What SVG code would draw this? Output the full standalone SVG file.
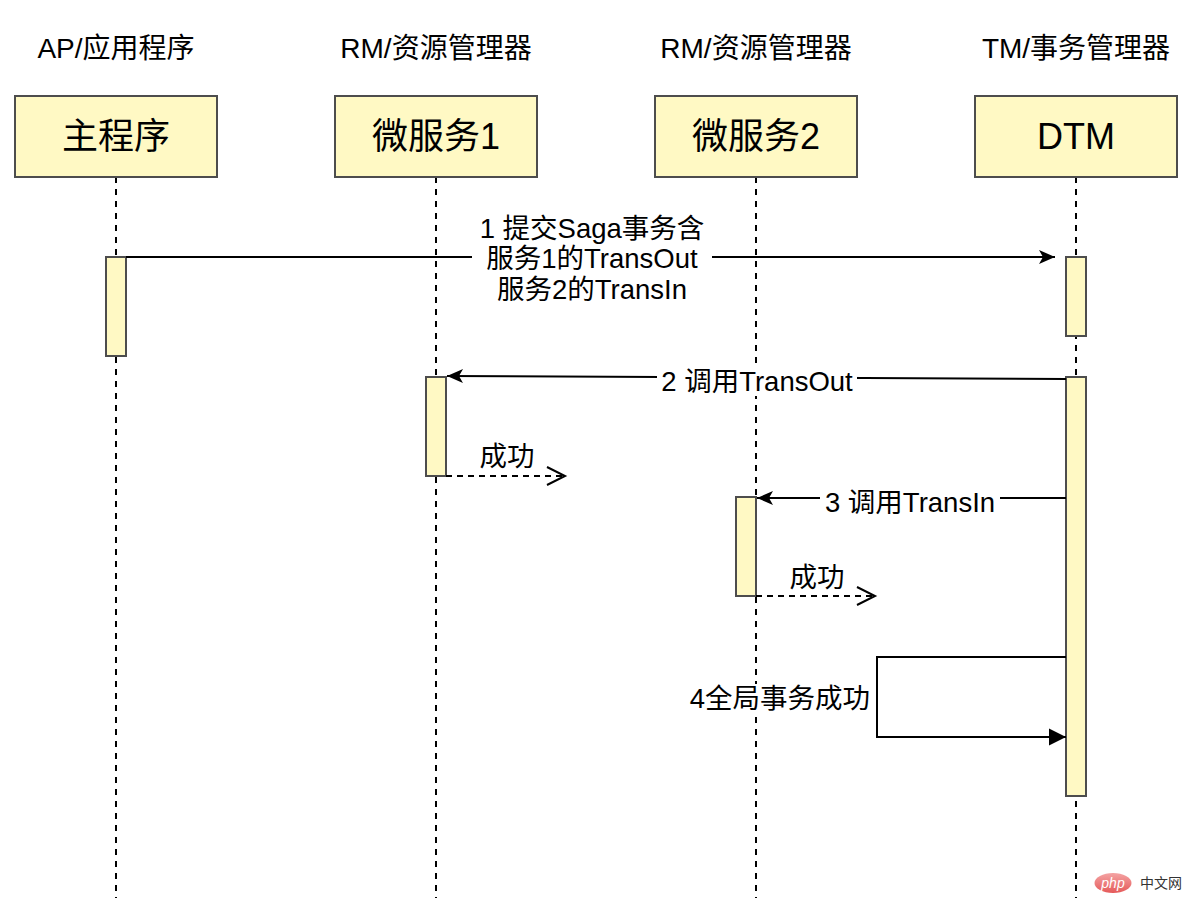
<svg xmlns="http://www.w3.org/2000/svg" width="1194" height="916" viewBox="0 0 1194 916">
<style>
text{font-family:"Liberation Sans","Noto Sans CJK SC",sans-serif;fill:#000}
.hdr{font-size:28px;text-anchor:middle}
.box{fill:#fff9c4;stroke:#4d4d4d;stroke-width:2}
.lbl{font-size:36px;text-anchor:middle}
.life{stroke:#000;stroke-width:2;stroke-dasharray:6 6;fill:none}
.act{fill:#fff9c4;stroke:#4d4d4d;stroke-width:2}
.msg{stroke:#000;stroke-width:2;fill:none}
.ret{stroke:#000;stroke-width:2;fill:none;stroke-dasharray:6 5}
.ml{font-size:27.5px}
.bg{fill:#fff}
</style>
<defs>
<marker id="classic" markerWidth="16" markerHeight="14" refX="16" refY="7" orient="auto" markerUnits="userSpaceOnUse" overflow="visible"><path d="M0,0 L16,7 L0,14 L4,7 Z" fill="#000"/></marker>
<marker id="block" markerWidth="17" markerHeight="17" refX="17" refY="8.5" orient="auto" markerUnits="userSpaceOnUse" overflow="visible"><path d="M0,0 L17,8.5 L0,17 Z" fill="#000"/></marker>
<marker id="open" markerWidth="18" markerHeight="18" refX="18" refY="9" orient="auto" markerUnits="userSpaceOnUse" overflow="visible"><path d="M0,0 L18,9 L0,18" fill="none" stroke="#000" stroke-width="2"/></marker>
<linearGradient id="php" x1="0" y1="0" x2="0" y2="1"><stop offset="0" stop-color="#f4a3a3"/><stop offset="1" stop-color="#e55a5a"/></linearGradient>
</defs>
<rect width="1194" height="916" fill="#fff"/>

<g id="lifelines">
<line class="life" x1="116" y1="177" x2="116" y2="898"/>
<line class="life" x1="436" y1="177" x2="436" y2="898"/>
<line class="life" x1="756" y1="177" x2="756" y2="898"/>
<line class="life" x1="1076" y1="177" x2="1076" y2="898"/>
</g>

<g id="ap">
<text class="hdr" x="116" y="58">AP/应用程序</text>
<rect class="box" x="15" y="96" width="202" height="81"/>
<text class="lbl" x="116" y="149">主程序</text>
<rect class="act" x="106" y="257" width="20" height="99"/>
</g>
<g id="rm1">
<text class="hdr" x="436" y="58">RM/资源管理器</text>
<rect class="box" x="335" y="96" width="202" height="81"/>
<text class="lbl" x="436" y="149">微服务1</text>
<rect class="act" x="426" y="377" width="20" height="99"/>
</g>
<g id="rm2">
<text class="hdr" x="756" y="58">RM/资源管理器</text>
<rect class="box" x="655" y="96" width="202" height="81"/>
<text class="lbl" x="756" y="149">微服务2</text>
<rect class="act" x="736" y="497" width="20" height="99"/>
</g>
<g id="tm">
<text class="hdr" x="1076" y="58">TM/事务管理器</text>
<rect class="box" x="975" y="96" width="202" height="81"/>
<text class="lbl" x="1076" y="149">DTM</text>
<rect class="act" x="1066" y="257" width="20" height="79"/>
<rect class="act" x="1066" y="377" width="20" height="419"/>
</g>

<g id="connectors">
<line class="msg" x1="126" y1="257" x2="1055" y2="257" marker-end="url(#classic)"/>
<rect class="bg" x="472" y="213" width="240" height="92"/>
<text class="ml" x="592" y="238" text-anchor="middle">1 提交Saga事务含</text>
<text class="ml" x="592" y="268" text-anchor="middle">服务1的TransOut</text>
<text class="ml" x="592" y="299" text-anchor="middle">服务2的TransIn</text>

<line class="msg" x1="1066" y1="379" x2="447" y2="376" marker-end="url(#classic)"/>
<rect class="bg" x="657" y="366" width="200" height="30"/>
<text class="ml" x="757" y="391" text-anchor="middle">2 调用TransOut</text>

<line class="ret" x1="446" y1="476" x2="565" y2="476" marker-end="url(#open)"/>
<text class="ml" x="507" y="466" text-anchor="middle">成功</text>

<line class="msg" x1="1066" y1="498" x2="757" y2="498" marker-end="url(#classic)"/>
<rect class="bg" x="820" y="487" width="180" height="30"/>
<text class="ml" x="910" y="512" text-anchor="middle">3 调用TransIn</text>

<line class="ret" x1="756" y1="596" x2="875" y2="596" marker-end="url(#open)"/>
<text class="ml" x="817" y="587" text-anchor="middle">成功</text>

<path class="msg" d="M1066,657 L877,657 L877,737 L1066,737" marker-end="url(#block)"/>
<rect class="bg" x="684" y="684" width="188" height="30"/>
<text class="ml" x="870" y="708" text-anchor="end">4全局事务成功</text>
</g>

<g id="watermark">
<ellipse cx="1113" cy="883" rx="18.5" ry="10" fill="url(#php)"/>
<text x="1113" y="888" font-size="14" font-style="italic" text-anchor="middle" style="fill:#fff">php</text>
<text x="1140" y="888" font-size="14" style="fill:#333">中文网</text>
</g>
</svg>
